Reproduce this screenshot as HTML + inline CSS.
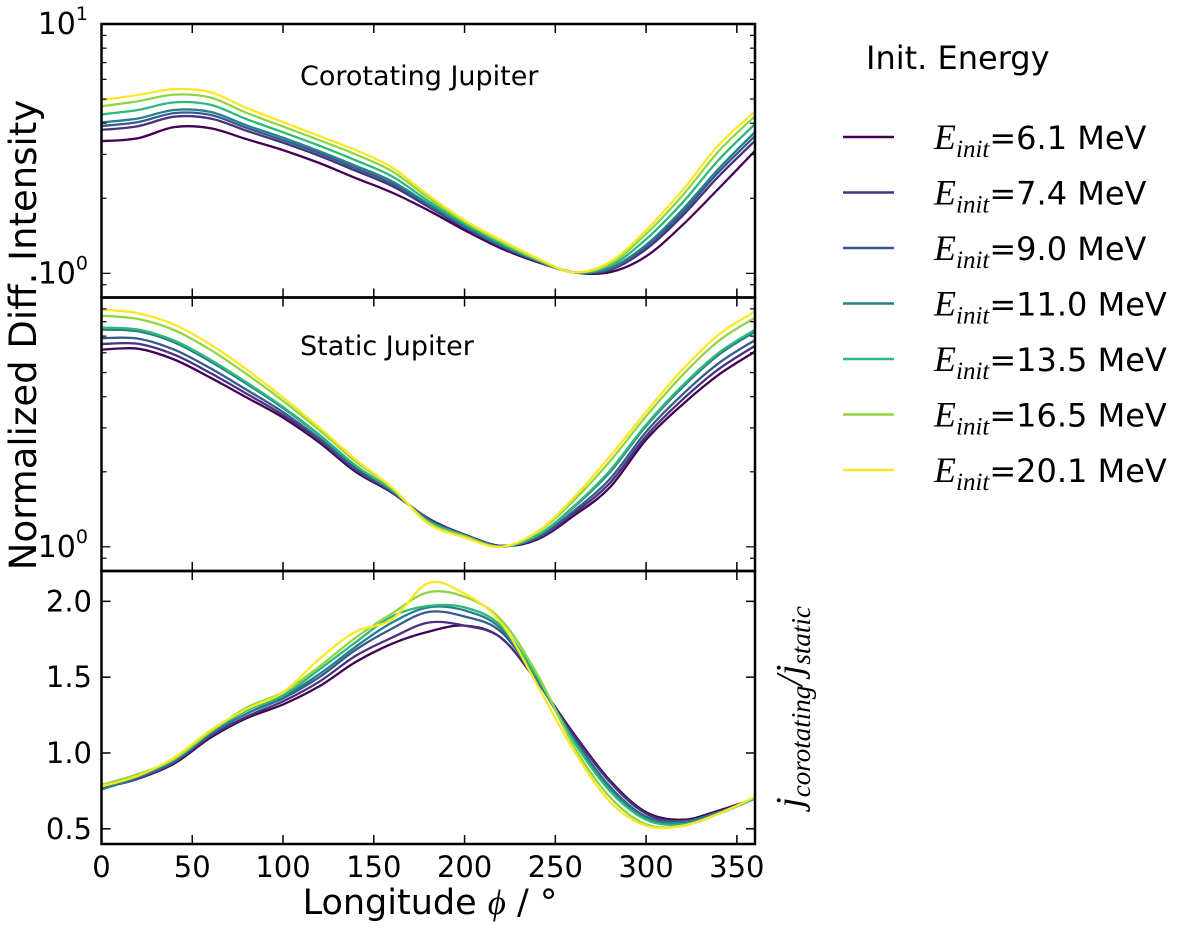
<!DOCTYPE html>
<html><head><meta charset="utf-8"><style>
body{margin:0;background:#fff}
svg text{font-family:"DejaVu Sans","Liberation Sans",sans-serif;fill:#000}
</style></head><body>
<svg id="chart" width="1200" height="925" viewBox="0 0 1200 925" xmlns="http://www.w3.org/2000/svg">
<g id="plots"></g>
<g id="axes"></g>
<text x="300" y="85" font-size="27">Corotating Jupiter</text>
<text x="300" y="355" font-size="27">Static Jupiter</text>
<text transform="translate(36,335) rotate(-90)" text-anchor="middle" font-size="37">Normalized Diff. Intensity</text>
<text x="430" y="914" text-anchor="middle" font-size="35">Longitude <tspan font-family="Liberation Serif" font-style="italic">ϕ</tspan> / °</text>
<text transform="translate(802,707) rotate(-90)" text-anchor="middle" font-size="38" font-family="Liberation Serif" font-style="italic" style="font-family:'Liberation Serif',serif">j<tspan font-size="27" dy="8">corotating</tspan><tspan dy="-8">/</tspan>j<tspan font-size="27" dy="8">static</tspan></text>
<g id="legend">
<text x="866" y="69" font-size="32">Init. Energy</text>
</g>
</svg>
<script>
const phis=[0,20,40,60,80,100,120,140,160,180,200,220,240,260,280,300,320,340,360];
const energies=["6.1","7.4","9.0","11.0","13.5","16.5","20.1"];
const colors=["#440154","#46327e","#365c8d","#277f8e","#2db97a","#8ed644","#fde725"];
const coro61=[3.39,3.48,3.86,3.82,3.45,3.12,2.77,2.41,2.11,1.79,1.49,1.26,1.11,1.01,1.01,1.17,1.56,2.19,3.10];
const coro74=[3.76,3.89,4.25,4.18,3.73,3.34,2.96,2.58,2.24,1.85,1.52,1.28,1.12,1.01,1.03,1.25,1.70,2.45,3.40];
const coro90=[3.90,4.04,4.39,4.32,3.83,3.42,3.03,2.64,2.29,1.88,1.54,1.29,1.12,1.01,1.04,1.28,1.75,2.55,3.55];
const coro110=[4.03,4.18,4.52,4.44,3.92,3.50,3.09,2.70,2.34,1.90,1.55,1.30,1.13,1.01,1.05,1.30,1.80,2.63,3.69];
const coro135=[4.34,4.52,4.85,4.74,4.15,3.68,3.25,2.84,2.45,1.95,1.58,1.32,1.13,1.01,1.07,1.37,1.92,2.85,3.97];
const coro165=[4.68,4.90,5.21,5.07,4.40,3.88,3.42,3.00,2.57,2.01,1.61,1.34,1.14,1.01,1.09,1.44,2.05,3.09,4.27];
const coro201=[4.95,5.19,5.48,5.33,4.60,4.04,3.55,3.12,2.66,2.06,1.63,1.36,1.15,1.01,1.11,1.49,2.15,3.27,4.45];
const stat61=[6.18,6.23,5.64,4.77,3.97,3.30,2.62,2.00,1.65,1.30,1.12,1.01,1.07,1.33,1.73,2.69,3.72,4.90,6.07];
const stat74=[6.51,6.52,5.90,4.98,4.11,3.38,2.67,2.03,1.66,1.29,1.12,1.01,1.08,1.36,1.80,2.78,3.89,5.16,6.40];
const stat90=[6.87,6.84,6.18,5.20,4.26,3.47,2.72,2.06,1.67,1.29,1.11,1.01,1.09,1.39,1.87,2.89,4.08,5.45,6.75];
const stat110=[7.43,7.32,6.61,5.54,4.50,3.60,2.80,2.11,1.69,1.27,1.11,1.00,1.11,1.44,1.99,3.05,4.36,5.89,7.29];
const stat135=[7.57,7.44,6.72,5.63,4.56,3.64,2.82,2.12,1.69,1.27,1.11,1.00,1.11,1.45,2.02,3.09,4.43,6.00,7.43];
const stat165=[8.45,8.21,7.40,6.17,4.93,3.85,2.94,2.20,1.72,1.25,1.10,1.00,1.14,1.53,2.20,3.34,4.88,6.70,8.30];
const stat201=[8.95,8.65,7.79,6.48,5.14,3.97,3.01,2.24,1.73,1.24,1.09,1.00,1.15,1.57,2.30,3.48,5.14,7.10,8.79];
const ratio61=[0.77,0.83,0.93,1.10,1.23,1.32,1.44,1.60,1.72,1.80,1.84,1.76,1.47,1.13,0.82,0.61,0.56,0.62,0.70];
const ratio74=[0.77,0.83,0.94,1.11,1.24,1.34,1.47,1.64,1.76,1.86,1.84,1.76,1.47,1.12,0.81,0.60,0.55,0.61,0.70];
const ratio90=[0.76,0.84,0.94,1.12,1.26,1.36,1.50,1.68,1.82,1.93,1.90,1.80,1.48,1.10,0.78,0.58,0.55,0.61,0.70];
const ratio110=[0.76,0.84,0.95,1.13,1.26,1.37,1.52,1.70,1.86,1.96,1.94,1.82,1.48,1.09,0.77,0.57,0.54,0.61,0.70];
const ratio135=[0.78,0.85,0.96,1.14,1.28,1.38,1.55,1.73,1.90,1.97,1.96,1.84,1.50,1.08,0.75,0.56,0.53,0.60,0.70];
const ratio165=[0.79,0.86,0.96,1.14,1.30,1.40,1.57,1.76,1.92,2.06,2.03,1.88,1.52,1.05,0.71,0.53,0.52,0.60,0.71];
const ratio201=[0.78,0.85,0.97,1.15,1.29,1.40,1.62,1.80,1.88,2.12,2.05,1.86,1.45,1.02,0.68,0.52,0.52,0.60,0.71];
const xTicks=[0,50,100,150,200,250,300,350];
const ratioTicks=["0.5","1.0","1.5","2.0"];

const NS="http://www.w3.org/2000/svg";
const X0=101.5,X1=755;
const xs=v=>X0+(v/360)*(X1-X0);
const panels=[
 {name:"corotating",top:24,bot:297.5,log:true,min:0.8,max:10,series:[coro61,coro74,coro90,coro110,coro135,coro165,coro201]},
 {name:"static",top:297.5,bot:571,log:true,min:0.8,max:10,series:[stat61,stat74,stat90,stat110,stat135,stat165,stat201]},
 {name:"ratio",top:571,bot:844,log:false,min:0.4,max:2.2,series:[ratio61,ratio74,ratio90,ratio110,ratio135,ratio165,ratio201]}
];
function yFn(p){
 if(p.log){const a=Math.log10(p.min),b=Math.log10(p.max);return v=>p.bot-(Math.log10(v)-a)/(b-a)*(p.bot-p.top);}
 return v=>p.bot-(v-p.min)/(p.max-p.min)*(p.bot-p.top);
}
function smooth(pts){
 let d='M'+pts[0][0].toFixed(1)+','+pts[0][1].toFixed(1);
 for(let i=0;i<pts.length-1;i++){
  const p0=pts[Math.max(0,i-1)],p1=pts[i],p2=pts[i+1],p3=pts[Math.min(pts.length-1,i+2)];
  const c1=[p1[0]+(p2[0]-p0[0])/6,p1[1]+(p2[1]-p0[1])/6];
  const c2=[p2[0]-(p3[0]-p1[0])/6,p2[1]-(p3[1]-p1[1])/6];
  d+='C'+c1[0].toFixed(1)+','+c1[1].toFixed(1)+' '+c2[0].toFixed(1)+','+c2[1].toFixed(1)+' '+p2[0].toFixed(1)+','+p2[1].toFixed(1);
 }
 return d;
}
function mk(tag,attrs,parent){const e=document.createElementNS(NS,tag);for(const k in attrs)e.setAttribute(k,attrs[k]);parent.appendChild(e);return e;}
const plots=document.getElementById('plots'),axes=document.getElementById('axes');
panels.forEach(p=>{
 const ys=yFn(p);
 const g=mk('g',{},plots);
 
 
 p.series.forEach((s,i)=>{
  const d=smooth(s.map((v,j)=>[xs(phis[j]),ys(v)]));
  const path=mk('path',{d:d,fill:'none',stroke:colors[i],'stroke-width':2.3,'stroke-linejoin':'round'},g);
  
  
 });
 const fr=mk('rect',{x:X0,y:p.top,width:X1-X0,height:p.bot-p.top,fill:'none',stroke:'#000','stroke-width':2.5},axes);
 
 
 xTicks.forEach(t=>{const x=xs(t);
  mk('line',{x1:x,x2:x,y1:p.bot,y2:p.bot-9,stroke:'#000','stroke-width':1.5},axes);
  mk('line',{x1:x,x2:x,y1:p.top,y2:p.top+9,stroke:'#000','stroke-width':1.5},axes);
 });
 if(p.log){
  for(let k=8;k<=10;k++){const v=k/10;const y=ys(v);const L=(k==10)?9:5;
   mk('line',{x1:X0,x2:X0+L,y1:y,y2:y,stroke:'#000','stroke-width':1.2},axes);
   mk('line',{x1:X1,x2:X1-L,y1:y,y2:y,stroke:'#000','stroke-width':1.2},axes);}
  for(let k=2;k<=10;k++){const y=ys(k);const L=(k==10)?9:5;
   mk('line',{x1:X0,x2:X0+L,y1:y,y2:y,stroke:'#000','stroke-width':1.2},axes);
   mk('line',{x1:X1,x2:X1-L,y1:y,y2:y,stroke:'#000','stroke-width':1.2},axes);}
  const lbl=mk('text',{x:88,y:ys(1)+10,'text-anchor':'end','font-size':30},axes);
  lbl.textContent='10';
  
  
  mk('tspan',{'font-size':19,dy:-14},lbl).textContent='0';
  if(p.name==='corotating'){
   const l2=mk('text',{x:88,y:ys(10)+10,'text-anchor':'end','font-size':30},axes);
   l2.textContent='10';
   
   
   mk('tspan',{'font-size':19,dy:-14},l2).textContent='1';
  }
 } else {
  ratioTicks.forEach(t=>{const y=ys(parseFloat(t));
   mk('line',{x1:X0,x2:X0+9,y1:y,y2:y,stroke:'#000','stroke-width':1.5},axes);
   mk('line',{x1:X1,x2:X1-9,y1:y,y2:y,stroke:'#000','stroke-width':1.5},axes);
   const tl=mk('text',{x:92,y:y+10,'text-anchor':'end','font-size':29},axes);
   tl.textContent=t;
   
   
  });
  xTicks.forEach(t=>{
   const tl=mk('text',{x:xs(t),y:877,'text-anchor':'middle','font-size':29},axes);
   tl.textContent=t;
   
   
  });
 }
});
const leg=document.getElementById('legend');
energies.forEach((e,i)=>{
 const y=137+i*55.5;
 const g=mk('g',{},leg);
 
 
 mk('line',{x1:843,x2:894,y1:y,y2:y,stroke:colors[i],'stroke-width':2.5},g);
 const t=mk('text',{x:934,y:y+12,'font-size':32},g);
 const a=mk('tspan',{'font-family':'Liberation Serif','font-style':'italic','font-size':36,style:"font-family:'Liberation Serif',serif"},t);a.textContent='E';
 const b=mk('tspan',{'font-family':'Liberation Serif','font-style':'italic','font-size':25,dy:8,style:"font-family:'Liberation Serif',serif"},t);b.textContent='init';
 const c=mk('tspan',{dy:-8},t);c.textContent='='+e+' MeV';
});
</script>
</body></html>
